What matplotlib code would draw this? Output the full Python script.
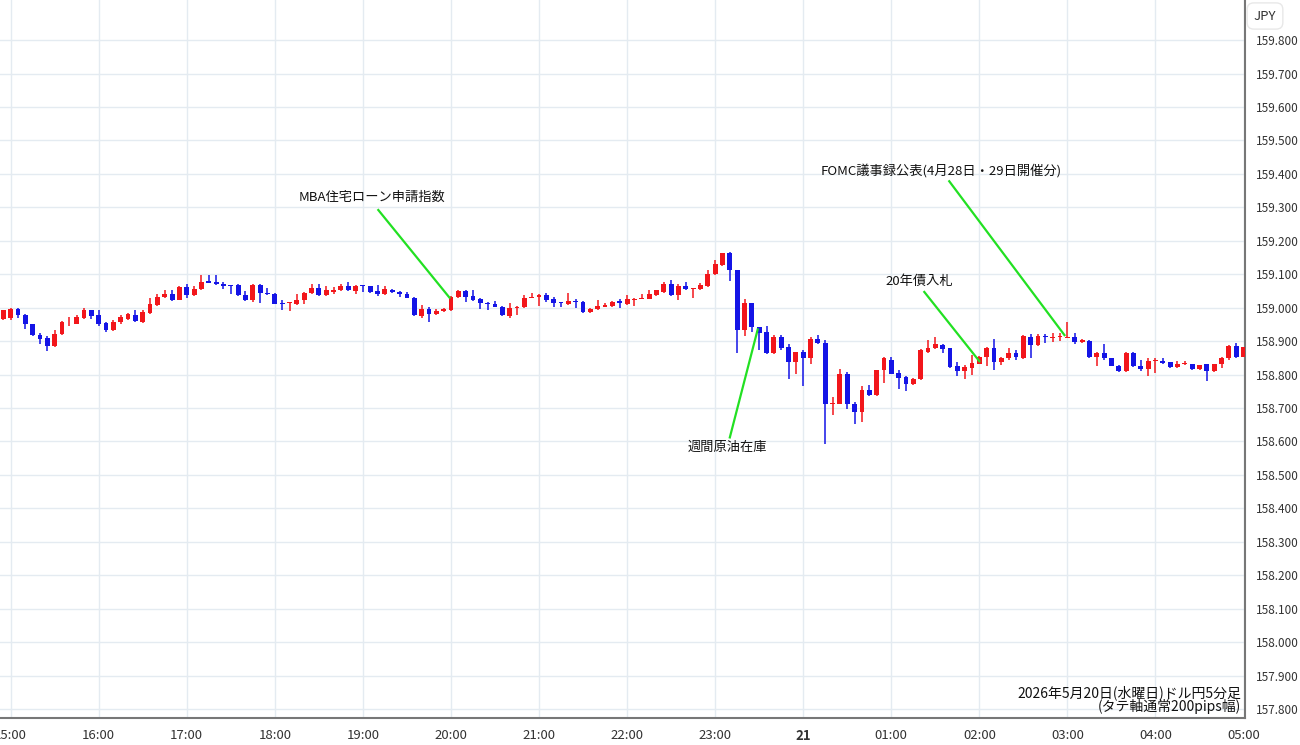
import matplotlib
matplotlib.use("Agg")
import matplotlib.pyplot as plt

plt.rcParams['font.family'] = ['Noto Sans CJK JP', 'DejaVu Sans']

opens = [158.967,158.970,158.997,158.977,158.952,158.917,158.910,158.884,158.920,158.956,
 158.952,158.970,158.992,158.977,158.954,158.932,158.957,158.967,158.977,158.957,
 158.984,159.007,159.032,159.040,159.024,159.062,159.037,159.057,159.080,159.077,
 159.072,159.069,159.069,159.039,159.022,159.067,159.045,159.042,159.014,159.014,
 159.010,159.022,159.044,159.060,159.037,159.047,159.052,159.064,159.050,159.068,
 159.064,159.050,159.040,159.054,159.047,159.042,159.030,158.974,158.997,158.980,
 158.990,158.993,159.031,159.050,159.034,159.025,159.015,159.011,159.003,158.975,
 159.000,159.002,159.030,159.031,159.039,159.025,159.016,159.011,159.021,159.017,
 158.987,158.995,159.003,159.005,159.019,159.011,159.024,159.027,159.027,159.037,
 159.047,159.072,159.037,159.064,159.057,159.057,159.064,159.100,159.127,159.162,
 159.112,158.933,159.015,158.941,158.928,158.863,158.913,158.881,158.838,158.868,
 158.848,158.905,158.893,158.713,158.713,158.803,158.713,158.688,158.755,158.738,
 158.813,158.843,158.805,158.793,158.771,158.786,158.868,158.878,158.888,158.878,
 158.826,158.812,158.821,158.833,158.851,158.878,158.838,158.848,158.865,158.848,
 158.913,158.888,158.915,158.908,158.911,158.910,158.913,158.898,158.901,158.851,
 158.863,158.848,158.826,158.812,158.865,158.826,158.816,158.841,158.841,158.838,
 158.823,158.831,158.833,158.816,158.831,158.811,158.831,158.848,158.885,158.853]
closes = [158.992,158.997,158.977,158.952,158.917,158.907,158.885,158.920,158.956,158.957,
 158.972,158.992,158.974,158.952,158.932,158.957,158.972,158.980,158.960,158.987,
 159.012,159.032,159.040,159.022,159.062,159.037,159.057,159.077,159.074,159.070,
 159.066,159.066,159.037,159.024,159.067,159.044,159.042,159.012,159.012,159.017,
 159.024,159.044,159.060,159.037,159.052,159.052,159.064,159.052,159.066,159.066,
 159.047,159.042,159.057,159.046,159.040,159.030,158.977,158.997,158.980,158.990,
 158.997,159.031,159.050,159.031,159.022,159.013,159.011,159.003,158.978,159.000,
 159.003,159.030,159.032,159.039,159.022,159.013,159.013,159.021,159.017,158.987,
 158.997,159.005,159.008,159.018,159.015,159.025,159.027,159.030,159.042,159.052,
 159.072,159.037,159.064,159.056,159.060,159.067,159.102,159.130,159.162,159.112,
 158.933,159.015,158.941,158.925,158.863,158.913,158.878,158.838,158.868,158.848,
 158.905,158.893,158.713,158.716,158.803,158.713,158.688,158.755,158.738,158.813,
 158.848,158.803,158.791,158.771,158.788,158.873,158.880,158.890,158.875,158.823,
 158.812,158.823,158.835,158.851,158.878,158.838,158.850,158.865,158.853,158.915,
 158.888,158.915,158.911,158.911,158.914,158.913,158.898,158.903,158.851,158.863,
 158.848,158.826,158.812,158.865,158.826,158.816,158.841,158.843,158.835,158.823,
 158.833,158.835,158.816,158.828,158.811,158.833,158.848,158.885,158.853,158.881]
highs = [158.992,159.000,159.000,158.982,158.952,158.924,158.914,158.932,158.960,158.972,
 158.977,159.000,158.994,158.992,158.957,158.962,158.977,158.984,158.994,158.992,
 159.030,159.042,159.054,159.052,159.064,159.070,159.064,159.097,159.097,159.097,
 159.077,159.069,159.072,159.050,159.070,159.070,159.060,159.044,159.022,159.017,
 159.042,159.047,159.070,159.070,159.064,159.062,159.072,159.077,159.068,159.068,
 159.066,159.067,159.064,159.056,159.050,159.046,159.032,159.007,159.002,158.997,
 159.000,159.034,159.052,159.052,159.052,159.028,159.018,159.020,159.005,159.015,
 159.005,159.037,159.044,159.041,159.043,159.032,159.018,159.043,159.025,159.020,
 159.000,159.023,159.015,159.020,159.025,159.037,159.030,159.042,159.052,159.054,
 159.077,159.082,159.072,159.077,159.060,159.074,159.114,159.144,159.164,159.167,
 159.114,159.027,159.015,158.941,158.945,158.918,158.918,158.891,158.868,158.873,
 158.913,158.918,158.903,158.733,158.818,158.808,158.718,158.765,158.768,158.815,
 158.851,158.851,158.815,158.795,158.791,158.875,158.903,158.911,158.891,158.880,
 158.838,158.828,158.858,158.855,158.881,158.905,158.853,158.878,158.873,158.917,
 158.921,158.921,158.921,158.925,158.925,158.958,158.923,158.905,158.903,158.868,
 158.891,158.848,158.829,158.868,158.868,158.845,158.848,158.848,158.848,158.838,
 158.841,158.841,158.833,158.828,158.833,158.833,158.851,158.888,158.893,158.883]
lows = [158.964,158.962,158.970,158.937,158.914,158.892,158.870,158.882,158.917,158.944,
 158.950,158.967,158.967,158.946,158.927,158.930,158.952,158.964,158.958,158.954,
 158.982,159.004,159.030,159.020,159.022,159.030,159.034,159.054,159.074,159.067,
 159.057,159.042,159.034,159.020,159.017,159.014,159.037,159.010,158.992,158.990,
 159.007,159.010,159.042,159.036,159.034,159.042,159.050,159.050,159.040,159.047,
 159.044,159.034,159.038,159.044,159.032,159.028,158.975,158.970,158.957,158.977,
 158.987,158.990,159.028,159.018,159.020,158.995,158.993,159.001,158.976,158.968,
 158.978,159.000,159.030,159.005,159.017,159.003,159.001,159.008,158.998,158.985,
 158.985,158.993,159.001,159.003,158.998,159.008,159.005,159.025,159.025,159.034,
 159.044,159.034,159.022,159.054,159.030,159.054,159.062,159.098,159.125,159.080,
 158.865,158.915,158.928,158.873,158.861,158.861,158.873,158.788,158.803,158.765,
 158.831,158.891,158.592,158.679,158.711,158.698,158.652,158.659,158.735,158.735,
 158.775,158.801,158.758,158.751,158.768,158.784,158.865,158.875,158.863,158.821,
 158.796,158.786,158.799,158.831,158.826,158.813,158.828,158.843,158.843,158.846,
 158.848,158.885,158.895,158.898,158.901,158.908,158.890,158.893,158.849,158.826,
 158.845,158.826,158.809,158.809,158.823,158.812,158.796,158.806,158.833,158.821,
 158.821,158.828,158.814,158.814,158.782,158.809,158.821,158.845,158.848,158.851]

tick_idx = [1, 13, 25, 37, 49, 61, 73, 85, 97, 109, 121, 133, 145, 157, 169]
tick_labels = ["15:00","16:00","17:00","18:00","19:00","20:00","21:00","22:00","23:00",
               "21","01:00","02:00","03:00","04:00","05:00"]
ytick_vals = [157.8 + 0.1*k for k in range(21)]

annotations = [
    ("MBA住宅ローン申請指数", (50.3, 159.330), (51.1, 159.292), (60.8, 159.030)),
    ("週間原油在庫", (98.7, 158.582), (99.0, 158.612), (102.8, 158.935)),
    ("20年債入札", (124.8, 159.078), (125.5, 159.047), (133.0, 158.840)),
    ("FOMC議事録公表(4月28日・29日開催分)", (127.8, 159.410), (128.9, 159.378), (144.6, 158.918)),
]

RED = "#f2161b"
BLUE = "#1414e6"

fig = plt.figure(figsize=(13, 7.45), dpi=100)
ax = fig.add_axes([0, 1-718/745, 1245/1300, 718/745])

for i, (o, h, l, c) in enumerate(zip(opens, highs, lows, closes)):
    col = RED if c >= o else BLUE
    ax.vlines(i, l, h, color=col, linewidth=1.1, zorder=2)
    b = max(abs(c - o), 0.0015)
    ax.bar(i, b, bottom=min(o, c), width=0.66, color=col, linewidth=0, zorder=3)

ax.set_xlim(-0.45, 169.2)
ax.set_ylim(157.773, 159.920)
ax.set_xticks(tick_idx)
ax.set_xticklabels(tick_labels)
for t in ax.get_xticklabels():
    t.set_color("#333333")
    if t.get_text() == "21":
        t.set_fontweight("bold")
ax.yaxis.tick_right()
ax.set_yticks(ytick_vals)
ax.set_yticklabels([f"{v:.3f}" for v in ytick_vals])
ax.tick_params(axis='x', length=0, labelsize=9.5, colors="#333333", pad=8)
ax.tick_params(axis='y', length=0, labelsize=8.5, colors="#333333", pad=8)
ax.grid(True, color="#e4ebf1", linewidth=1, zorder=0)
ax.set_axisbelow(True)
for s in ["top", "left"]:
    ax.spines[s].set_visible(False)
ax.spines["right"].set_color("#777777")
ax.spines["right"].set_linewidth(1.5)
ax.spines["bottom"].set_color("#777777")
ax.spines["bottom"].set_linewidth(1.5)

for txt, tp, ls, le in annotations:
    ax.text(tp[0], tp[1], txt, ha="center", va="center", fontsize=9.5, color="#111111", zorder=5)
    ax.plot([ls[0], le[0]], [ls[1], le[1]], color="#22e022", linewidth=1.6, zorder=4)

ax.text(0.997, 0.005, "2026年5月20日(水曜日)ドル円5分足\n(タテ軸通常200pips幅)", transform=ax.transAxes,
        ha="right", va="bottom", fontsize=10, color="#111111", linespacing=0.95)

fig.text(1265/1300, 1-16/745, "JPY", ha="center", va="center", fontsize=9.5, color="#333333",
         bbox=dict(boxstyle="round,pad=0.5", fc="white", ec="#e8e8e8"))

fig.savefig("out.png", dpi=100)
